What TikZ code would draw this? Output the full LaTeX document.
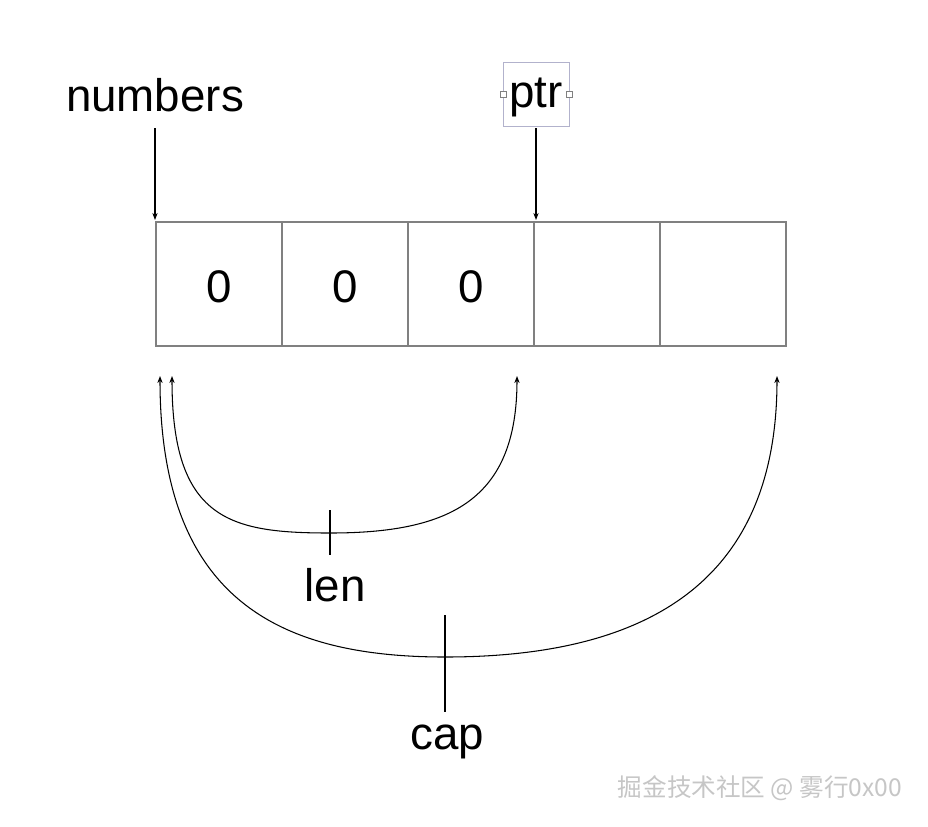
\documentclass[tikz,border=0pt]{standalone}
\usepackage{fontspec}
\setmainfont{Liberation Sans}
\newfontfamily\cjk{Noto Sans CJK SC}
\usetikzlibrary{arrows.meta}
\begin{document}
\begin{tikzpicture}[x=0.03cm,y=-0.03cm,
    lbl/.style={font=\fontsize{39}{44}\selectfont},
    cell/.style={draw=gray,line width=1pt},
    arr/.style={-{Stealth[length=6pt,width=4.5pt]},line width=0.9pt},
    darr/.style={{Stealth[length=6pt,width=4.5pt]}-{Stealth[length=6pt,width=4.5pt]},line width=0.9pt}]
  \useasboundingbox (0,0) rectangle (928,826);
  \node[lbl] (numbers) at (155,95) {numbers};
  \node[lbl] (ptr) at (536,97) {ptr};
  \draw[blue!20!gray!50] (503,62) rectangle (569,126); % selection box
  \foreach \hx in {503,569} \draw[gray,fill=white] (\hx-3,91) rectangle (\hx+3,97);
  \foreach \i in {0,...,4}
    \draw[cell] (156+126*\i,222) rectangle (282+126*\i,346);
  \foreach \i in {0,1,2}
    \node[lbl] (zero\i) at (219+126*\i,287) {0};
  \coordinate (nbtip) at (155,220);
  \coordinate (ptrtip) at (536,220);
  \draw[arr] (155,128) -- (nbtip);
  \draw[arr] (536,128) -- (ptrtip);
  % len
  \draw[darr] (172,376) .. controls (172,520) and (230,533) .. (330,533)
    .. controls (450,533) and (517,500) .. (517,376);
  \draw[line width=1pt] (330,510) -- (330,555);
  \node[lbl] (len) at (335,585) {len};
  % cap
  \draw[darr] (160,376) .. controls (160,600) and (280,657) .. (445,657)
    .. controls (650,657) and (777,580) .. (777,376);
  \draw[line width=1pt] (445,615) -- (445,712);
  \node[lbl] (cap) at (447,742) {cap};
  \node[text=gray!45,font=\cjk\fontsize{21}{24}\selectfont] (wm) at (760,788) {掘金技术社区 @ 雾行0x00};
\end{tikzpicture}
\end{document}
